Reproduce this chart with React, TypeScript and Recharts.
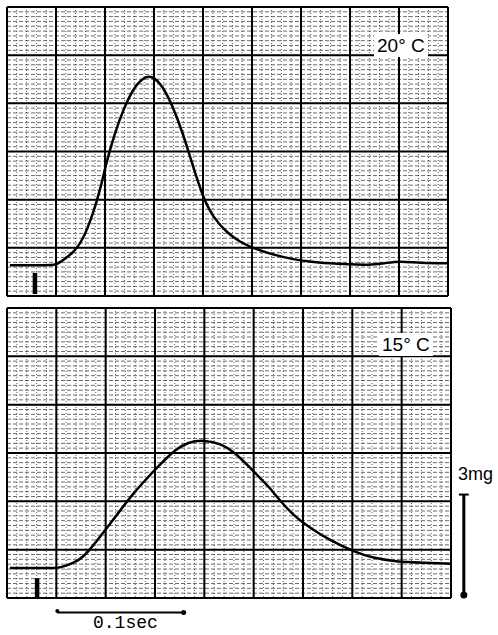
import { CartesianGrid, Line, LineChart, ReferenceDot, ReferenceLine, XAxis, YAxis } from 'recharts';

// grid-paper units: 1 = one major square
const timeTop = [0.06, 0.67, 1.0, 1.08, 1.35, 1.55, 1.76, 1.9, 2.04, 2.2, 2.37, 2.57, 2.78, 2.96, 3.18, 3.39, 3.59, 3.8, 4.0, 4.2, 4.49, 4.76, 5.0, 5.63, 6.39, 7.0, 7.35, 7.71, 8.02, 8.43, 9.0];
const forceTop = [0.64, 0.64, 0.64, 0.7, 0.89, 1.16, 1.72, 2.2, 2.82, 3.38, 3.86, 4.3, 4.54, 4.58, 4.36, 3.92, 3.38, 2.68, 2.05, 1.64, 1.31, 1.12, 1.0, 0.79, 0.68, 0.66, 0.64, 0.68, 0.73, 0.68, 0.68];

const timeBottom = [0.06, 0.67, 1.0, 1.08, 1.35, 1.55, 1.76, 2.04, 2.31, 2.57, 2.86, 3.12, 3.39, 3.67, 4.0, 4.35, 4.61, 4.96, 5.16, 5.31, 5.57, 5.84, 6.12, 6.53, 7.06, 7.41, 7.88, 8.43, 9.0];
const forceBottom = [0.62, 0.62, 0.62, 0.63, 0.72, 0.85, 1.1, 1.47, 1.83, 2.18, 2.5, 2.78, 3.05, 3.23, 3.27, 3.19, 3.02, 2.66, 2.45, 2.3, 1.97, 1.68, 1.47, 1.2, 0.95, 0.83, 0.75, 0.73, 0.71];

const majorX = [1, 2, 3, 4, 5, 6, 7, 8];
const majorY = [0, 1, 2, 3, 4, 5];
const minorX = Array.from({ length: 46 }, (_, i) => Math.round(i * 2) / 10);
const minorY = Array.from({ length: 61 }, (_, i) => i / 10);

const topData = timeTop.map((t, i) => ({ t, f: forceTop[i] }));
const bottomData = timeBottom.map((t, i) => ({ t, f: forceBottom[i] }));

const sans = '"Liberation Sans", Arial, sans-serif';

function GridPanel({ data, height, margin, marks }: { data: { t: number; f: number }[]; height: number; margin: any; marks: React.ReactNode }) {
  return (
    <LineChart width={498} height={height} data={data} margin={margin}>
      <XAxis xAxisId="major" dataKey="t" type="number" domain={[0, 9]} ticks={majorX} interval={0} hide allowDataOverflow />
      <XAxis xAxisId="minor" dataKey="t" type="number" domain={[0, 9]} ticks={minorX} interval={0} hide allowDataOverflow />
      <YAxis yAxisId="major" type="number" domain={[0, 6]} ticks={majorY} interval={0} hide allowDataOverflow />
      <YAxis yAxisId="minor" type="number" domain={[0, 6]} ticks={minorY} interval={0} hide allowDataOverflow />
      <CartesianGrid xAxisId="major" yAxisId="minor" vertical={false} stroke="#111" strokeOpacity={0.62} strokeDasharray="4 2" />
      <CartesianGrid xAxisId="minor" yAxisId="major" horizontal={false} stroke="#111" strokeOpacity={0.65} strokeDasharray="1 2" />
      <CartesianGrid xAxisId="major" yAxisId="major" stroke="#000" strokeWidth={2} />
      <Line
        xAxisId="major"
        yAxisId="major"
        dataKey="f"
        type="basis"
        stroke="#000"
        strokeWidth={2.5}
        dot={false}
        isAnimationActive={false}
      />
      {marks}
    </LineChart>
  );
}

export default function App() {
  const label = (text: string, left: number, top: number, size: number, font: string, bg = true, lh = size) => (
    <div
      style={{
        position: 'absolute',
        left,
        top,
        fontFamily: font,
        fontSize: size,
        lineHeight: `${lh}px`,
        whiteSpace: 'pre',
        background: bg ? '#fff' : 'transparent',
        padding: bg ? '2px 3px' : 0,
        margin: bg ? '-2px -3px' : 0,
        color: '#000',
      }}
    >
      {text}
    </div>
  );

  return (
    <div style={{ position: 'absolute', left: 0, top: 0, width: 498, height: 635, background: '#fff', overflow: 'hidden' }}>
      <div style={{ position: 'absolute', left: 0, top: 0 }}>
        <GridPanel
          data={topData}
          height={300}
          margin={{ top: 7, right: 50, bottom: 4, left: 7 }}
          marks={
            <ReferenceLine
              xAxisId="major"
              yAxisId="major"
              segment={[{ x: 0.57, y: 0.48 }, { x: 0.57, y: 0.04 }]}
              stroke="#000"
              strokeWidth={4.5}
              ifOverflow="visible"
            />
          }
        />
      </div>
      <div style={{ position: 'absolute', left: 0, top: 300 }}>
        <GridPanel
          data={bottomData}
          height={335}
          margin={{ top: 8, right: 47, bottom: 37, left: 7 }}
          marks={[
            <ReferenceLine
              key="stim"
              xAxisId="major"
              yAxisId="major"
              segment={[{ x: 0.61, y: 0.41 }, { x: 0.61, y: 0.0 }]}
              stroke="#000"
              strokeWidth={4.5}
              ifOverflow="visible"
            />,
            <ReferenceLine
              key="mg"
              xAxisId="major"
              yAxisId="major"
              segment={[{ x: 9.26, y: 2.14 }, { x: 9.26, y: 0.06 }]}
              stroke="#000"
              strokeWidth={3}
              ifOverflow="visible"
            />,
            <ReferenceLine
              key="mgcap"
              xAxisId="major"
              yAxisId="major"
              segment={[{ x: 9.16, y: 2.14 }, { x: 9.36, y: 2.14 }]}
              stroke="#000"
              strokeWidth={2}
              ifOverflow="visible"
            />,
            <ReferenceDot key="mgdot" xAxisId="major" yAxisId="major" x={9.26} y={0.06} r={3.5} fill="#000" stroke="none" ifOverflow="visible" />,
            <ReferenceLine
              key="sec"
              xAxisId="major"
              yAxisId="major"
              segment={[{ x: 1.02, y: -0.3 }, { x: 3.58, y: -0.3 }]}
              stroke="#000"
              strokeWidth={2}
              ifOverflow="visible"
            />,
            <ReferenceDot key="secl" xAxisId="major" yAxisId="major" x={1.02} y={-0.27} r={2} fill="#000" stroke="none" ifOverflow="visible" />,
            <ReferenceDot key="secr" xAxisId="major" yAxisId="major" x={3.58} y={-0.3} r={2.5} fill="#000" stroke="none" ifOverflow="visible" />,
          ]}
        />
      </div>
      {label('20° C', 377, 36, 19, sans)}
      {label('15° C', 382, 335, 19, sans)}
      {label('3mg', 458, 465, 18, sans, false)}
      {label('0.1sec', 93, 616, 18, '"Liberation Mono", "Courier New", monospace', false, 14)}
    </div>
  );
}
